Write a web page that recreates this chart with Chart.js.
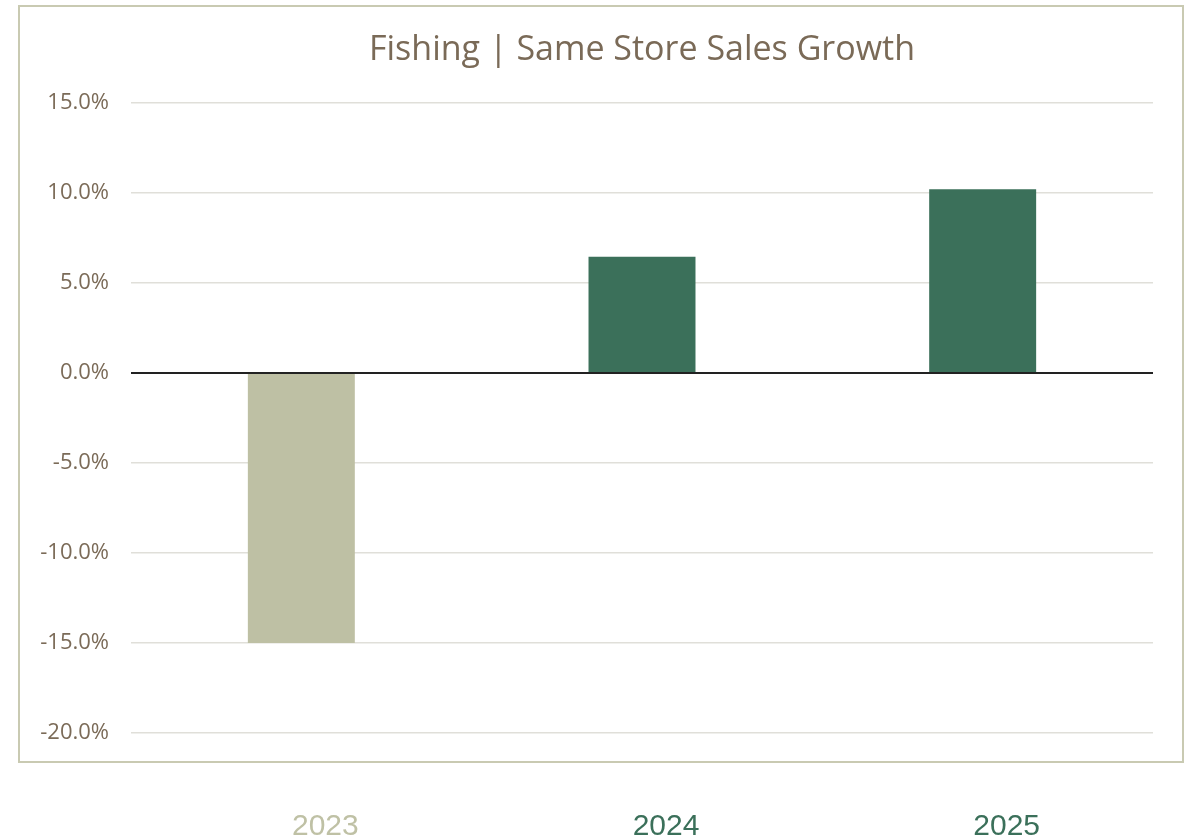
<!DOCTYPE html>
<html>
<head>
<meta charset="utf-8">
<script src="https://cdn.jsdelivr.net/npm/chart.js@4/dist/chart.umd.min.js"></script>
<style>
  html, body { margin: 0; padding: 0; background: #fff; }
  #wrap { width: 1192px; height: 839px; position: relative; }
</style>
</head>
<body>
<div id="wrap"><canvas id="salesChart"></canvas></div>
<script>
// Chart data
const years = ['2023', '2024', '2025'];
const growth = [-15.0, 6.45, 10.2]; // same store sales growth, %
const barColors = ['#BEC0A4', '#3B705A', '#3B705A'];
const labelColors = ['#BFC1A5', '#3B705A', '#3B705A'];
const yMin = -20;
const yMax = 15;
const yStep = 5;

// Light frame around the plot (the year labels sit outside it)
const framePlugin = {
    id: 'frame',
    beforeDraw(chart) {
        const c = chart.ctx;
        c.save();
        c.strokeStyle = '#C9CAB2';
        c.lineWidth = 2;
        c.strokeRect(19, 6, 1164, 756);
        c.restore();
    }
};

const ctx = document.getElementById('salesChart').getContext('2d');
const salesChart = new Chart(ctx, {
    type: 'bar',
    data: {
        labels: years,
        datasets: [{
            label: 'Same Store Sales Growth',
            data: growth,
            backgroundColor: barColors,
            borderWidth: 0,
            barPercentage: 1,
            categoryPercentage: 0.314,
        }],
    },
    options: {
        responsive: true,
        maintainAspectRatio: false,
        animation: false,
        layout: {
            padding: { left: 0, right: 39, top: 0, bottom: 0 },
        },
        plugins: {
            legend: { display: false },
            tooltip: { enabled: false },
            title: {
                display: true,
                fullSize: false,
                text: 'Fishing | Same Store Sales Growth',
                color: '#7A6A57',
                font: { family: 'Open Sans', size: 34, weight: 'normal', lineHeight: 1.2 },
                padding: { top: 30, bottom: 32 },
            },
        },
        scales: {
            x: {
                grid: { display: false, drawTicks: false },
                border: { display: false },
                ticks: {
                    padding: 76,
                    labelOffset: 24,
                    color: (c) => labelColors[c.index],
                    font: { family: 'Liberation Sans', size: 30 },
                },
                afterFit: (scale) => { scale.height = 106; },
            },
            y: {
                min: yMin,
                max: yMax,
                ticks: {
                    stepSize: yStep,
                    padding: 22,
                    color: '#7B6B58',
                    font: { family: 'Open Sans', size: 22 },
                    callback: (v) => v.toFixed(1) + '%',
                },
                grid: {
                    drawTicks: false,
                    color: (c) => c.tick && c.tick.value === 0 ? '#222222' : '#E0DFD9',
                    lineWidth: (c) => c.tick && c.tick.value === 0 ? 2 : 1.5,
                },
                border: { display: false },
                afterFit: (scale) => { scale.width = 131; },
            },
        },
    },
    plugins: [framePlugin],
});
</script>
</body>
</html>
